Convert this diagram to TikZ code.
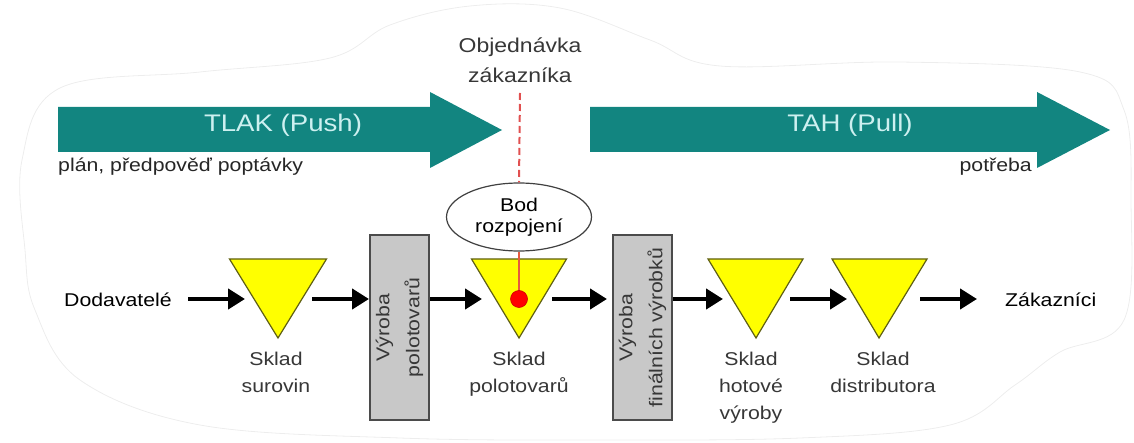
\documentclass[tikz,border=0pt]{standalone}
\usepackage{fontspec}
\setmainfont{Liberation Sans}[FakeStretch=1.15]
\usetikzlibrary{arrows.meta,shapes.geometric}
\definecolor{tealA}{RGB}{18,133,128}
\definecolor{tealtext}{RGB}{205,240,240}
\definecolor{labelgray}{RGB}{55,55,55}
\definecolor{stockfill}{RGB}{255,255,0}
\definecolor{stockline}{RGB}{95,95,20}
\definecolor{boxfill}{RGB}{200,200,200}
\definecolor{boxline}{RGB}{75,75,75}
\definecolor{cutred}{RGB}{225,80,80}
\begin{document}
\begin{tikzpicture}[x=1pt,y=-1pt,
  lbl/.style={font=\fontsize{18.5}{27}\selectfont, text=labelgray, align=center, inner sep=0pt},
  endlbl/.style={font=\fontsize{18.5}{22}\selectfont, text=black, inner sep=0pt},
  bigarrow/.style={fill=tealA},
  arrowtext/.style={font=\fontsize{24}{28}\selectfont, text=tealtext, inner sep=0pt},
  stock/.style={fill=stockfill, draw=stockline, line width=1.2pt, line join=miter},
  prodbox/.style={draw=boxline, fill=boxfill, line width=2pt, minimum width=59pt, minimum height=185pt, inner sep=0pt},
  prodtext/.style={font=\fontsize{18.5}{30}\selectfont, text=labelgray, align=center, rotate=90, inner sep=0pt},
  flow/.style={line width=4.5pt, draw=black, -{Triangle[length=17pt,width=20pt]}},
  cut/.style={draw=cutred, line width=2pt, dash pattern=on 7pt off 4pt},
  cloud/.style={draw=black!7, line width=0.8pt}
]
\useasboundingbox (0,0) rectangle (1134,443);

% faint background outline
\draw[cloud] plot[smooth cycle, tension=0.6] coordinates {
  (25,250) (22,160) (60,88) (200,72) (330,58) (390,25) (470,6) (560,8)
  (650,40) (720,66) (900,62) (1080,72) (1124,110) (1131,200) (1124,320)
  (1060,352) (1015,385) (950,425) (800,438) (600,440) (400,438) (200,425)
  (80,380) (35,310)};

% push / pull arrows
\fill[bigarrow] (58,107) -- (430,107) -- (430,92) -- (502,130) -- (430,168) -- (430,152) -- (58,152) -- cycle;
\fill[bigarrow] (590,107) -- (1037,107) -- (1037,92) -- (1110,130) -- (1037,168) -- (1037,152) -- (590,152) -- cycle;
\node[arrowtext, anchor=base] (tlak) at (283,132) {TLAK (Push)};
\node[arrowtext, anchor=base] (tah) at (850,132) {TAH (Pull)};
\node[lbl, text=black!85, anchor=base west] (plan) at (58,172) {plán, předpověď poptávky};
\node[lbl, text=black!85, anchor=base east] (potreba) at (1032,172) {potřeba};

% order point
\node[font=\fontsize{20}{30}\selectfont, text=labelgray, align=center, inner sep=0pt, anchor=base] (order) at (520,83) {Objednávka\\zákazníka};
\node[draw=black!75, line width=1.2pt, ellipse, minimum width=145pt, minimum height=68pt, inner sep=0pt,
      font=\fontsize{18.5}{21}\selectfont, align=center] (bod) at (519,217) {Bod\\rozpojení};

% storages (triangles)
\fill[stock] (229.5,259) -- (326.5,259) -- (278,338) -- cycle;
\fill[stock] (471.5,259) -- (566.5,259) -- (519,338) -- cycle;
\fill[stock] (708,259) -- (803,259) -- (756,338) -- cycle;
\fill[stock] (832,259) -- (927,259) -- (879,338) -- cycle;
\coordinate (t1W) at (245,299); \coordinate (t1E) at (312,299);
\coordinate (t2W) at (482,299); \coordinate (t2E) at (552,299);
\coordinate (t3W) at (723,299); \coordinate (t3E) at (790,299);
\coordinate (t4W) at (847,299); \coordinate (t4E) at (920,299);

% production boxes
\node[prodbox] (r1) at (399.5,327.5) {};
\node[prodtext] at (r1.center) {Výroba\\polotovarů};
\node[prodbox] (r2) at (642.5,327.5) {};
\node[prodtext] at (r2.center) {Výroba\\finálních výrobků};

% end labels
\node[endlbl, anchor=base east] (dod) at (172,307) {Dodavatelé};
\node[endlbl, anchor=base west] (zak) at (1005,307) {Zákazníci};

% cut line and point
\draw[cut] (order.south |- 0,93) -- (bod.north);
\draw[draw=cutred!80!orange, line width=1.3pt] (bod.south) -- (519,299);
\node[circle, fill=red, draw=red!80!black, line width=0.6pt, minimum size=17pt, inner sep=0pt] (dot) at (519,299) {};

% flow arrows
\draw[flow] ([xshift=16pt]dod.east |- 0,299) -- (t1W);
\draw[flow] (t1E) -- (r1.west |- 0,299);
\draw[flow] (r1.east |- 0,299) -- (t2W);
\draw[flow] (t2E) -- ([xshift=-5pt]r2.west |- 0,299);
\draw[flow] (r2.east |- 0,299) -- (t3W);
\draw[flow] (t3E) -- (t4W);
\draw[flow] (t4E) -- (977,299);

% storage labels (anchor = baseline of last line)
\node[lbl, anchor=base] (s1) at (276,392) {Sklad\\surovin};
\node[lbl, anchor=base] (s2) at (519,392) {Sklad\\polotovarů};
\node[lbl, anchor=base] (s3) at (751,419) {Sklad\\hotové\\výroby};
\node[lbl, anchor=base] (s4) at (883,392) {Sklad\\distributora};
\end{tikzpicture}
\end{document}
